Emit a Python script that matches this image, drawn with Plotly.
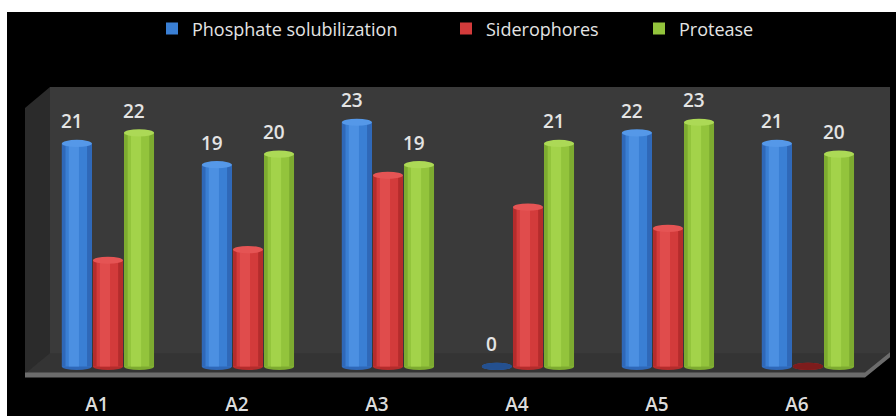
import numpy as np
import plotly.graph_objects as go

# Chart data
categories = ["A1", "A2", "A3", "A4", "A5", "A6"]
phosphate = [21, 19, 23, 0, 22, 21]
siderophores = [10, 11, 18, 15, 13, 0]
protease = [22, 20, 19, 21, 23, 20]

W, H = 896, 416
# plot domain in pixels (back wall area)
L, R, T, B = 50, 890, 87, 376.6
Y_MIN, Y_MAX = -1.0, 26.32
X_MIN, X_MAX = -0.414, 5.586


def px(x):
    return (x - L) / (R - L)


def py(y):
    return (B - y) / (B - T)


def path(points):
    return "M " + " L ".join(f"{px(x):.5f},{py(y):.5f}" for x, y in points) + " Z"


idx = np.arange(len(categories))
bar_w = 0.214
step = 0.222

series = [
    dict(name="Phosphate solubilization", values=phosphate, shift=-step, labels=True,
         legend="legend", lx=152,
         edge="#2f68b8", body="#3a7fd4", light="#4c90e2", cap="#5598e8", flat="#24508f"),
    dict(name="Siderophores", values=siderophores, shift=0.0, labels=False,
         legend="legend2", lx=446,
         edge="#b42c2c", body="#d33b3b", light="#e04c4c", cap="#e55454", flat="#7d1c1c"),
    dict(name="Protease", values=protease, shift=step, labels=True,
         legend="legend3", lx=639,
         edge="#7dab30", body="#93c43c", light="#a3d34a", cap="#acd956", flat="#5b7f22"),
]

fig = go.Figure()
shapes = []
annotations = []

# frame: white border, black canvas, walls and floor
shapes.append(dict(type="rect", xref="paper", yref="paper", layer="below",
                   x0=px(7), x1=px(W + 2), y0=py(12), y1=py(H + 2),
                   fillcolor="#000000", line=dict(width=0)))
shapes.append(dict(type="rect", xref="paper", yref="paper", layer="below",
                   x0=px(50), x1=px(890), y0=py(355), y1=py(87),
                   fillcolor="#3a3a3a", line=dict(width=0)))
shapes.append(dict(type="path", xref="paper", yref="paper", layer="below",
                   path=path([(25, 108), (50, 87), (50, 355), (25, 373)]),
                   fillcolor="#2b2b2b", line=dict(width=0)))
shapes.append(dict(type="path", xref="paper", yref="paper", layer="below",
                   path=path([(50, 353), (890, 353), (865, 373), (25, 373)]),
                   fillcolor="#343434", line=dict(width=0)))
shapes.append(dict(type="path", xref="paper", yref="paper", layer="below",
                   path=path([(25, 372), (865, 372), (890, 352), (890, 357), (865, 377), (25, 377)]),
                   fillcolor="#6c6c6c", line=dict(width=0)))

legend_layout = {}
cap_h = 0.34
for s in series:
    xs = idx + s["shift"]
    vals = np.array(s["values"], dtype=float)
    # cylinder body built from overlaid bars: rims, body, highlight
    fig.add_trace(go.Bar(x=xs, y=vals, width=bar_w, name=s["name"], legend=s["legend"],
                         marker=dict(color=s["body"], line=dict(width=0)),
                         showlegend=True, hoverinfo="skip"))
    fig.add_trace(go.Bar(x=xs - bar_w * 0.44, y=vals, width=bar_w * 0.12,
                         marker=dict(color=s["edge"], line=dict(width=0)),
                         showlegend=False, hoverinfo="skip"))
    fig.add_trace(go.Bar(x=xs + bar_w * 0.42, y=vals, width=bar_w * 0.16,
                         marker=dict(color=s["edge"], line=dict(width=0)),
                         showlegend=False, hoverinfo="skip"))
    fig.add_trace(go.Bar(x=xs - bar_w * 0.10, y=vals, width=bar_w * 0.34,
                         marker=dict(color=s["light"], line=dict(width=0)),
                         showlegend=False, hoverinfo="skip"))
    for x, v in zip(xs, vals):
        # rounded base
        shapes.append(dict(type="circle", xref="x", yref="y", layer="below",
                           x0=x - bar_w / 2, x1=x + bar_w / 2,
                           y0=-cap_h, y1=cap_h,
                           fillcolor=s["edge"], line=dict(width=0)))
        # top cap
        shapes.append(dict(type="circle", xref="x", yref="y", layer="above",
                           x0=x - bar_w / 2, x1=x + bar_w / 2,
                           y0=v - cap_h, y1=v + cap_h,
                           fillcolor=s["cap"] if v > 0 else s["flat"], line=dict(width=0)))
        if s["labels"]:
            annotations.append(dict(x=x, y=v, xref="x", yref="y", text=f"{int(v)}",
                                    showarrow=False, xshift=-5, yshift=22,
                                    font=dict(family="Open Sans", size=19, color="#e4e4e4",
                                              weight=600)))
    legend_layout[s["legend"]] = dict(
        x=px(s["lx"]), xanchor="left", y=py(29), yanchor="middle",
        bgcolor="rgba(0,0,0,0)", borderwidth=0,
        font=dict(family="Open Sans", size=18, color="#e4e4e4"))

fig.update_layout(
    width=W, height=H,
    margin=dict(l=L, r=W - R, t=T, b=H - B, pad=0, autoexpand=False),
    paper_bgcolor="#ffffff",
    plot_bgcolor="rgba(0,0,0,0)",
    barmode="overlay",
    shapes=shapes,
    annotations=annotations,
    showlegend=True,
    xaxis=dict(range=[X_MIN, X_MAX], tickmode="array", tickvals=idx, ticktext=categories,
               showgrid=False, zeroline=False, showline=False, ticks="", automargin=False,
               ticklabelshift=-11, ticklabelstandoff=14,
               tickfont=dict(family="Open Sans", size=19, color="#dcdcdc", weight=600)),
    yaxis=dict(range=[Y_MIN, Y_MAX], visible=False, showgrid=False, zeroline=False,
               automargin=False),
    **legend_layout,
)

fig.write_html("out.html")
